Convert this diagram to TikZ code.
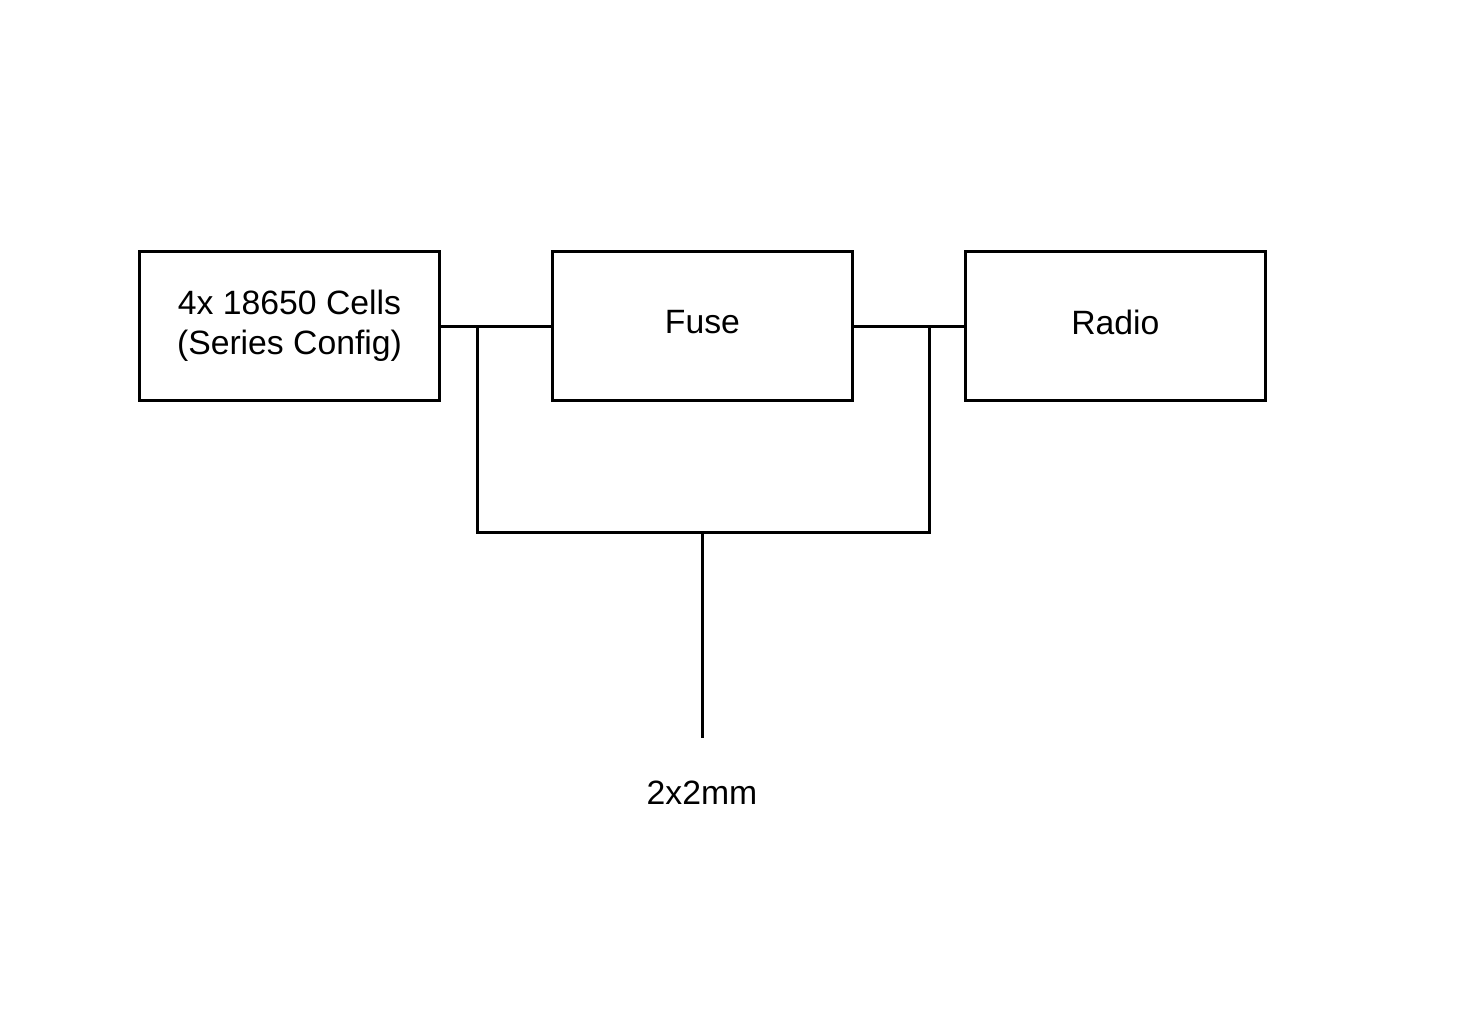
\documentclass[tikz,border=0pt]{standalone}
\usepackage{fontspec}
\setmainfont{Liberation Sans}
\usetikzlibrary{positioning}

\begin{document}
\begin{tikzpicture}[x=0.02cm,y=-0.02cm,node distance=2.2cm,
        font=\fontsize{19.2}{22.8}\selectfont,
        block/.style={draw,line width=0.06cm,minimum width=6cm,minimum height=3cm,align=center,inner sep=0pt,text depth=0.16cm},
        wire/.style={line width=0.06cm}]
        \useasboundingbox (0,0) rectangle (1480,1032);
        \node[block] (cells) at (289.5,326) {4x 18650 Cells\\(Series Config)};
        \node[block] (fuse) [right=of cells] {Fuse};
        \node[block] (radio) [right=of fuse] {Radio};

        \coordinate (j1) at (477,326);
        \coordinate (j2) at (929,326);
        \coordinate (busmid) at (702,532);
        \coordinate (tail) at (702,738);
        \node (size) at (702,793) {2x2mm};

        \draw[wire] (cells.east) -- (fuse.west);
        \draw[wire] (fuse.east) -- (radio.west);
        \draw[wire] (j1) |- (busmid) -| (j2);
        \draw[wire] (busmid) -- (tail);
    \end{tikzpicture}
\end{document}
